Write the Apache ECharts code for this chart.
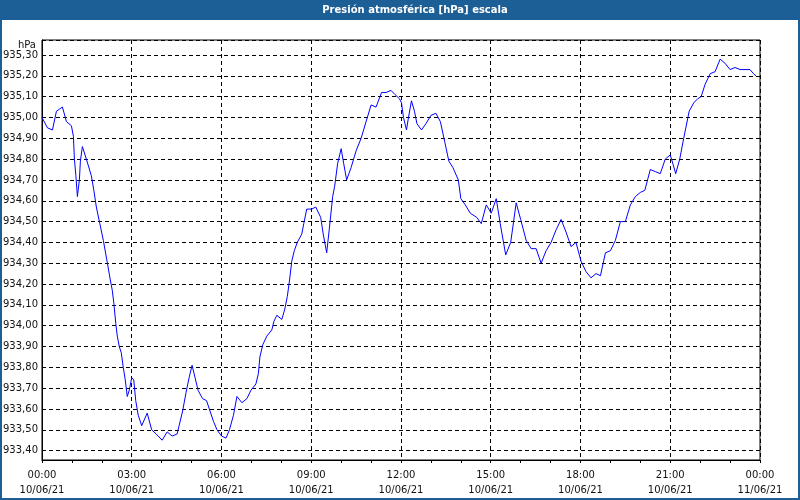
<!DOCTYPE html>
<html><head><meta charset="utf-8">
<script src="https://cdn.jsdelivr.net/npm/echarts@6/dist/echarts.min.js"></script>
<style>html,body{margin:0;padding:0;background:#fff}#c{width:800px;height:500px}</style>
</head><body><div id="c"></div>
<script>
const chartTitle = 'Presión atmosférica [hPa] escala';
const unitLabel = 'hPa';
const times = ['00:00','00:11','00:21','00:29','00:35','00:41','00:49','00:59','01:03','01:05','01:08','01:11','01:15','01:17','01:21','01:29','01:39','01:44','01:49','01:56','02:03','02:09','02:17','02:21','02:24','02:28','02:31','02:35','02:39','02:43','02:47','02:51','02:55','03:00','03:04','03:08','03:13','03:20','03:31','03:40','03:49','04:01','04:11','04:21','04:31','04:35','04:42','04:49','04:55','05:01','05:07','05:13','05:22','05:30','05:37','05:44','05:51','06:00','06:09','06:16','06:24','06:31','06:41','06:51','06:59','07:09','07:14','07:17','07:23','07:31','07:41','07:45','07:51','08:01','08:07','08:12','08:16','08:21','08:26','08:32','08:41','08:45','08:51','09:01','09:09','09:19','09:24','09:31','09:36','09:43','09:47','09:53','10:00','10:05','10:11','10:20','10:30','10:40','10:50','11:00','11:10','11:21','11:30','11:40','11:48','11:57','12:01','12:05','12:11','12:15','12:21','12:27','12:32','12:41','12:50','13:00','13:10','13:19','13:28','13:36','13:44','13:55','14:00','14:09','14:19','14:32','14:41','14:51','15:01','15:11','15:19','15:30','15:40','15:51','16:00','16:11','16:21','16:31','16:41','16:51','17:01','17:11','17:21','17:31','17:41','17:51','18:01','18:11','18:21','18:31','18:40','18:50','19:00','19:10','19:20','19:30','19:40','19:50','20:00','20:09','20:20','20:30','20:40','20:50','21:00','21:05','21:11','21:19','21:27','21:38','21:47','21:55','22:02','22:10','22:20','22:30','22:40','22:50','23:00','23:10','23:20','23:30','23:40','23:47','23:52'];
const values = [935.00,934.95,934.94,935.03,935.04,935.05,934.98,934.96,934.91,934.80,934.72,934.62,934.70,934.79,934.86,934.80,934.72,934.65,934.57,934.49,934.41,934.33,934.22,934.17,934.11,934.01,933.95,933.90,933.87,933.80,933.74,933.66,933.69,933.75,933.74,933.64,933.57,933.52,933.58,933.50,933.48,933.45,933.49,933.47,933.48,933.52,933.59,933.68,933.75,933.81,933.75,933.69,933.65,933.64,933.59,933.54,933.50,933.47,933.46,933.50,933.57,933.66,933.63,933.65,933.69,933.72,933.77,933.85,933.91,933.95,933.98,934.02,934.05,934.03,934.08,934.14,934.21,934.31,934.36,934.40,934.44,934.49,934.56,934.56,934.57,934.52,934.44,934.35,934.46,934.62,934.67,934.78,934.85,934.78,934.70,934.76,934.84,934.90,934.98,935.06,935.05,935.12,935.12,935.13,935.11,935.09,935.07,935.00,934.94,935.00,935.08,935.03,934.97,934.94,934.97,935.01,935.02,934.98,934.88,934.79,934.76,934.70,934.61,934.58,934.54,934.52,934.49,934.58,934.54,934.61,934.49,934.34,934.40,934.59,934.51,934.41,934.37,934.37,934.30,934.36,934.40,934.46,934.51,934.45,934.38,934.40,934.31,934.26,934.23,934.25,934.24,934.35,934.36,934.41,934.50,934.50,934.58,934.62,934.64,934.65,934.75,934.74,934.73,934.80,934.82,934.78,934.73,934.80,934.90,935.03,935.07,935.09,935.10,935.16,935.21,935.22,935.28,935.26,935.23,935.24,935.23,935.23,935.23,935.21,935.20];
const xTickLabels = ['00:00\n10/06/21','03:00\n10/06/21','06:00\n10/06/21','09:00\n10/06/21','12:00\n10/06/21','15:00\n10/06/21','18:00\n10/06/21','21:00\n10/06/21','00:00\n11/06/21'];

const toHours = s => { const p = s.split(':'); return +p[0] + (+p[1]) / 60; };
const seriesData = times.map((t, i) => [toHours(t), values[i]]);

const FONT = "'DejaVu Sans', Tahoma, sans-serif";
const chart = echarts.init(document.getElementById('c'), null, {renderer: 'canvas'});
chart.setOption({
  animation: false,
  backgroundColor: '#ffffff',
  grid: {left: 40, right: 40, top: 40, bottom: 40, show: true, borderColor: '#000', borderWidth: 1, backgroundColor: 'transparent'},
  xAxis: {
    type: 'value', min: 0, max: 24, interval: 3,
    axisLine: {show: true, lineStyle: {color: '#000', width: 1}},
    axisTick: {show: true, length: 3, lineStyle: {color: '#000'}},
    minorTick: {show: true, splitNumber: 3, length: 3, lineStyle: {color: '#000'}},
    splitLine: {show: true, lineStyle: {color: '#000', type: [4, 3], width: 1}},
    axisLabel: {
      color: '#111', fontFamily: FONT, fontSize: 10, lineHeight: 15, margin: 8,
      formatter: v => xTickLabels[Math.round(v / 3)] || ''
    }
  },
  yAxis: {
    type: 'value', min: 933.355, max: 935.372, splitNumber: 20,
    axisLine: {show: true, lineStyle: {color: '#000'}},
    axisTick: {show: false},
    splitLine: {show: true, lineStyle: {color: '#000', type: [4, 3], width: 1}},
    axisLabel: {
      color: '#111', fontFamily: FONT, fontSize: 10, margin: 4,
      showMinLabel: false, showMaxLabel: false,
      formatter: v => (Math.abs(v * 10 - Math.round(v * 10)) < 1e-6) ? v.toFixed(2).replace('.', ',') : ''
    }
  },
  series: [{
    type: 'line', data: seriesData, showSymbol: false, smooth: false,
    lineStyle: {color: '#0000ff', width: 1}, silent: true
  }],
  graphic: [
    {type: 'rect', shape: {x: 0, y: 0, width: 800, height: 20}, style: {fill: '#1c5e96'}},
    {type: 'rect', shape: {x: 1, y: 1, width: 798, height: 498}, style: {fill: 'none', stroke: '#1c5e96', lineWidth: 2}},
    {type: 'text', x: 415, y: 10, style: {text: chartTitle, fill: '#fff', font: "bold 10px 'DejaVu Sans', Tahoma, sans-serif", align: 'center', verticalAlign: 'middle'}},
    {type: 'text', x: 36, y: 45, style: {text: unitLabel, fill: '#111', font: "10px 'DejaVu Sans', Tahoma, sans-serif", align: 'right', verticalAlign: 'middle'}}
  ]
});
</script>
</body></html>
